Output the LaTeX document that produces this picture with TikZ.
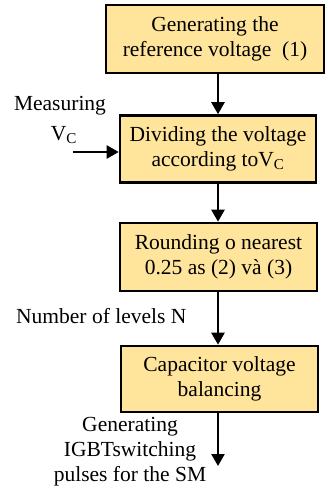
\documentclass[tikz,border=0pt]{standalone}
\usepackage{fontspec}
\setmainfont{Liberation Serif}
\usetikzlibrary{arrows.meta}
\definecolor{boxfill}{HTML}{FFE49C}
\tikzset{
  procbox/.style={draw=black, line width=2.6pt, fill=boxfill, inner sep=0pt,
    font=\fontsize{21.5}{25}\selectfont, align=center},
  flow/.style={line width=2.4pt, -{Triangle[length=12pt,width=13pt]}},
  lbl/.style={font=\fontsize{21.5}{25}\selectfont, align=center, inner sep=0pt}
}
\begin{document}
\begin{tikzpicture}[x=1pt,y=-1pt]
\useasboundingbox (0,0) rectangle (328,493);
\node[procbox, minimum width=218pt, minimum height=68pt] (b1) at (215,39) {Generating the\\reference voltage~ (1)};
\node[procbox, minimum width=196pt, minimum height=67pt] (b2) at (218,149) {Dividing the voltage\\according to$\mathrm{V_C}$};
\node[procbox, minimum width=197pt, minimum height=68pt] (b3) at (218.5,257) {Rounding o nearest\\0.25 as (2) và (3)};
\node[procbox, minimum width=197pt, minimum height=66pt] (b4) at (219.5,379) {Capacitor voltage\\balancing};
\coordinate (vin) at (73,152);
\coordinate (out) at (218,466);
\node[lbl] (meas) at (60,106) {Measuring};
\node[lbl] (vc) at (64,135) {$\mathrm{V_C}$};
\node[lbl, anchor=west] (nlev) at (16,316) {Number of levels N};
\node[lbl] (gen) at (130,452) {Generating\\IGBTswitching\\pulses for the SM};
\draw[flow] (b1.south -| out) -- (b2.north -| out);
\draw[flow] (b2.south -| out) -- (b3.north -| out);
\draw[flow] (b3.south -| out) -- (b4.north -| out);
\draw[flow] (b4.south -| out) -- (out);
\draw[flow] (vin) -- (vin -| b2.west);
\end{tikzpicture}
\end{document}
